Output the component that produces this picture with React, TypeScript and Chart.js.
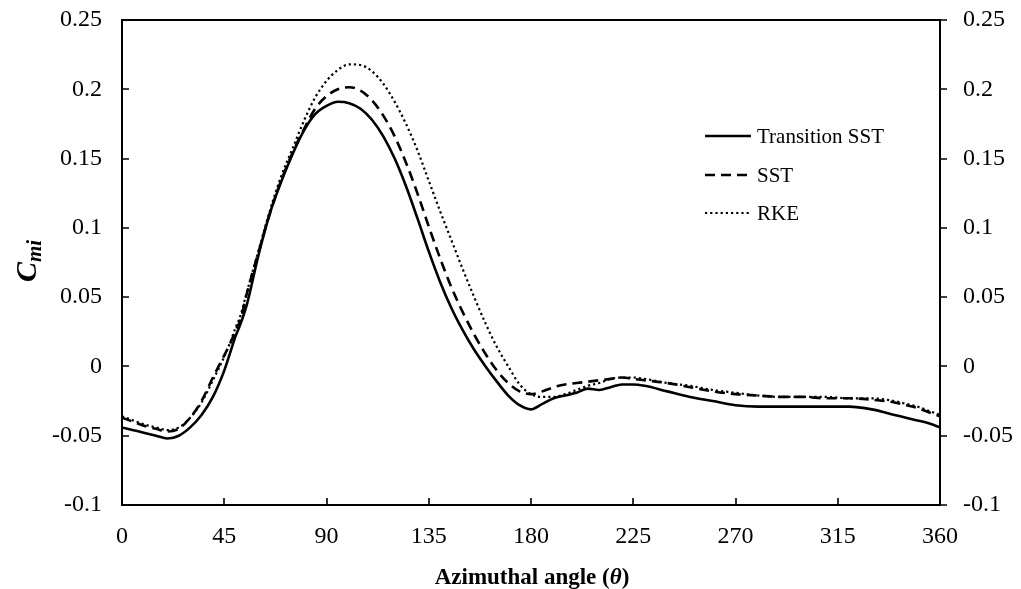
import React, { useEffect, useRef } from 'react';
import { Chart, registerables } from 'chart.js';

Chart.register(...registerables);

const angles = [0, 5, 10, 15, 20, 25, 30, 35, 40, 45, 48, 50, 52, 55, 60, 65, 70, 75, 80, 85, 90, 95, 100, 105, 110, 115, 120, 125, 130, 135, 140, 145, 150, 155, 160, 165, 170, 175, 180, 185, 190, 195, 200, 205, 210, 215, 220, 225, 230, 240, 250, 260, 270, 280, 290, 300, 310, 320, 330, 340, 345, 350, 355, 360];

const transitionSST = [-0.044, -0.046, -0.048, -0.05, -0.052, -0.05, -0.044, -0.035, -0.022, -0.003, 0.012, 0.022, 0.03, 0.045, 0.08, 0.11, 0.133, 0.153, 0.17, 0.182, 0.188, 0.191, 0.19, 0.186, 0.178, 0.166, 0.15, 0.13, 0.107, 0.083, 0.061, 0.042, 0.026, 0.012, 0.0, -0.011, -0.021, -0.028, -0.031, -0.027, -0.023, -0.021, -0.019, -0.016, -0.017, -0.015, -0.013, -0.013, -0.014, -0.018, -0.022, -0.025, -0.028, -0.029, -0.029, -0.029, -0.029, -0.029, -0.031, -0.035, -0.037, -0.039, -0.041, -0.044];

const sst = [-0.037, -0.04, -0.043, -0.045, -0.047, -0.045, -0.037, -0.025, -0.008, 0.008, 0.018, 0.026, 0.033, 0.053, 0.082, 0.11, 0.134, 0.154, 0.171, 0.186, 0.195, 0.2, 0.2015, 0.199, 0.192, 0.181, 0.166, 0.147, 0.125, 0.101, 0.078, 0.057, 0.039, 0.023, 0.009, -0.003, -0.012, -0.018, -0.02, -0.018, -0.015, -0.013, -0.012, -0.011, -0.01, -0.009, -0.008, -0.009, -0.01, -0.012, -0.015, -0.018, -0.02, -0.021, -0.022, -0.022, -0.023, -0.023, -0.024, -0.026, -0.028, -0.03, -0.033, -0.036];

const rke = [-0.036, -0.039, -0.042, -0.044, -0.046, -0.044, -0.037, -0.026, -0.01, 0.007, 0.019, 0.028, 0.036, 0.054, 0.083, 0.112, 0.137, 0.157, 0.177, 0.194, 0.206, 0.214, 0.218, 0.2175, 0.213, 0.204, 0.191, 0.175, 0.156, 0.134, 0.112, 0.091, 0.07, 0.05, 0.031, 0.014, 0.0, -0.013, -0.02, -0.022, -0.022, -0.02, -0.017, -0.014, -0.012, -0.009, -0.008, -0.008, -0.009, -0.012, -0.014, -0.017, -0.019, -0.021, -0.022, -0.022, -0.022, -0.023, -0.023, -0.025, -0.027, -0.029, -0.032, -0.035];

const seriesNames = ['Transition SST', 'SST', 'RKE'];
const xTickValues = [0, 45, 90, 135, 180, 225, 270, 315, 360];
const yTickValues = [-0.1, -0.05, 0, 0.05, 0.1, 0.15, 0.2, 0.25];

const FONT = "'Liberation Serif', 'Times New Roman', Times, serif";
const dashes: number[][] = [[], [10, 6], [2.2, 3]];
const widths = [2.6, 2.6, 2.2];

const framePlugin = {
  id: 'framePlugin',
  afterDraw(chart: any) {
    const { ctx, chartArea, scales } = chart;
    const { left, right, top, bottom } = chartArea;
    ctx.save();
    ctx.strokeStyle = '#000';
    ctx.lineWidth = 2;
    ctx.setLineDash([]);
    ctx.beginPath();
    ctx.rect(left, top, right - left, bottom - top);
    ctx.stroke();
    ctx.lineWidth = 1.6;
    ctx.beginPath();
    yTickValues.forEach((v) => {
      const py = Math.round(scales.y.getPixelForValue(v));
      ctx.moveTo(left, py);
      ctx.lineTo(left + 7, py);
      ctx.moveTo(right, py);
      ctx.lineTo(right + 7, py);
    });
    xTickValues.forEach((v) => {
      const px = Math.round(scales.x.getPixelForValue(v));
      ctx.moveTo(px, bottom);
      ctx.lineTo(px, bottom - 7);
    });
    ctx.stroke();

    // legend
    const lx0 = 705;
    const lx1 = 751;
    const rows = [136, 175, 213];
    chart.data.datasets.forEach((ds: any, i: number) => {
      ctx.save();
      ctx.lineWidth = widths[i];
      ctx.setLineDash(dashes[i]);
      ctx.beginPath();
      ctx.moveTo(lx0, rows[i]);
      ctx.lineTo(lx1, rows[i]);
      ctx.stroke();
      ctx.restore();
      ctx.fillStyle = '#000';
      ctx.font = `21px ${FONT}`;
      ctx.textAlign = 'left';
      ctx.textBaseline = 'middle';
      ctx.fillText(ds.label, 757, rows[i] + 1);
    });

    // x title
    ctx.fillStyle = '#000';
    ctx.textBaseline = 'alphabetic';
    ctx.textAlign = 'left';
    const p1 = 'Azimuthal angle (';
    const p2 = 'θ';
    const p3 = ')';
    ctx.font = `bold 23px ${FONT}`;
    const w1 = ctx.measureText(p1).width;
    const w3 = ctx.measureText(p3).width;
    ctx.font = `italic bold 23px ${FONT}`;
    const w2 = ctx.measureText(p2).width;
    const total = w1 + w2 + w3;
    let x = 532 - total / 2;
    const by = 584;
    ctx.font = `bold 23px ${FONT}`;
    ctx.fillText(p1, x, by);
    x += w1;
    ctx.font = `italic bold 23px ${FONT}`;
    ctx.fillText(p2, x, by);
    x += w2;
    ctx.font = `bold 23px ${FONT}`;
    ctx.fillText(p3, x, by);

    // y title C_mi
    ctx.save();
    ctx.translate(36, 261);
    ctx.rotate(-Math.PI / 2);
    ctx.font = `italic bold 30px ${FONT}`;
    const wc = ctx.measureText('C').width;
    ctx.font = `italic bold 21px ${FONT}`;
    const wm = ctx.measureText('mi').width;
    const start = -(wc + wm) / 2;
    ctx.font = `italic bold 30px ${FONT}`;
    ctx.fillText('C', start, 0);
    ctx.font = `italic bold 21px ${FONT}`;
    ctx.fillText('mi', start + wc, 5);
    ctx.restore();

    ctx.restore();
  },
};

function fmt(v: number) {
  return String(Math.round(v * 100) / 100);
}

export default function App() {
  const ref = useRef<HTMLCanvasElement | null>(null);
  useEffect(() => {
    document.body.style.margin = '0';
    const canvas = ref.current;
    if (!canvas) return;
    const series = [transitionSST, sst, rke];
    const chart = new Chart(canvas, {
      type: 'line',
      data: {
        datasets: series.map((vals, i) => ({
          label: seriesNames[i],
          data: angles.map((a, k) => ({ x: a, y: vals[k] })),
          borderColor: '#000',
          backgroundColor: '#000',
          borderWidth: widths[i],
          borderDash: dashes[i],
          pointRadius: 0,
          fill: false,
          cubicInterpolationMode: 'monotone' as const,
        })),
      },
      options: {
        animation: false,
        responsive: false,
        events: [],
        layout: { padding: { top: 20, left: 0, right: 0, bottom: 0 } },
        plugins: {
          legend: { display: false },
          tooltip: { enabled: false },
          title: { display: false },
        },
        scales: {
          x: {
            type: 'linear',
            min: 0,
            max: 360,
            grid: { display: false, drawTicks: false },
            border: { display: false },
            afterBuildTicks: (s: any) => {
              s.ticks = xTickValues.map((v) => ({ value: v }));
            },
            afterFit: (s: any) => {
              s.height = 84;
              s.paddingLeft = 0;
              s.paddingRight = 0;
            },
            ticks: {
              color: '#000',
              font: { family: FONT, size: 24 },
              padding: 17,
              maxRotation: 0,
              autoSkip: false,
              callback: (v: any) => String(v),
            },
          },
          y: {
            type: 'linear',
            position: 'left',
            min: -0.1,
            max: 0.25,
            grid: { display: false, drawTicks: false },
            border: { display: false },
            afterBuildTicks: (s: any) => {
              s.ticks = yTickValues.map((v) => ({ value: v }));
            },
            afterFit: (s: any) => {
              s.width = 122;
              s.paddingTop = 0;
              s.paddingBottom = 0;
            },
            ticks: {
              color: '#000',
              font: { family: FONT, size: 24 },
              padding: 20,
              autoSkip: false,
              callback: (v: any) => fmt(Number(v)),
            },
          },
          y2: {
            type: 'linear',
            position: 'right',
            min: -0.1,
            max: 0.25,
            grid: { display: false, drawTicks: false },
            border: { display: false },
            afterBuildTicks: (s: any) => {
              s.ticks = yTickValues.map((v) => ({ value: v }));
            },
            afterFit: (s: any) => {
              s.width = 81;
              s.paddingTop = 0;
              s.paddingBottom = 0;
            },
            ticks: {
              color: '#000',
              font: { family: FONT, size: 24 },
              padding: 23,
              autoSkip: false,
              callback: (v: any) => fmt(Number(v)),
            },
          },
        },
      },
      plugins: [framePlugin],
    });
    return () => chart.destroy();
  }, []);

  return (
    <div style={{ width: 1021, height: 589, background: '#fff' }}>
      <canvas ref={ref} width={1021} height={589} style={{ display: 'block' }} />
    </div>
  );
}
